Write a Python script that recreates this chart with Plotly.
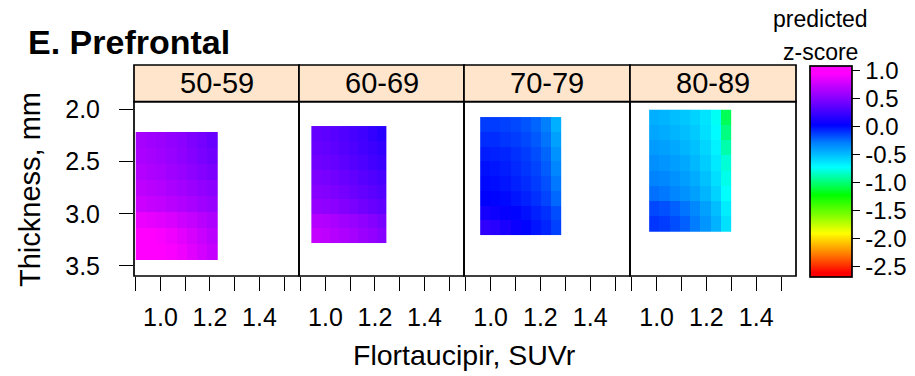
import numpy as np
import plotly.graph_objects as go

# Age groups (one panel each)
age_groups = ["50-59", "60-69", "70-79", "80-89"]

# Observed range of Flortaucipir SUVr and cortical thickness per age group
suvr_min = [0.900, 0.943, 0.958, 0.970]
suvr_max = [1.233, 1.247, 1.285, 1.300]
thick_min = [2.217, 2.160, 2.074, 2.004]
thick_max = [3.440, 3.280, 3.207, 3.175]

# Predicted z-score grids: rows run from thin (top) to thick (bottom),
# columns from low to high SUVr
z_50_59 = [
    [0.62, 0.60, 0.58, 0.55, 0.52, 0.48, 0.44, 0.40],
    [0.64, 0.62, 0.60, 0.57, 0.54, 0.50, 0.46, 0.43],
    [0.67, 0.65, 0.63, 0.60, 0.57, 0.53, 0.50, 0.47],
    [0.71, 0.69, 0.67, 0.64, 0.61, 0.58, 0.55, 0.52],
    [0.76, 0.74, 0.72, 0.69, 0.66, 0.63, 0.60, 0.57],
    [0.88, 0.86, 0.84, 0.81, 0.77, 0.73, 0.69, 0.65],
    [0.97, 0.95, 0.93, 0.89, 0.85, 0.80, 0.75, 0.70],
    [1.02, 1.00, 0.97, 0.93, 0.89, 0.84, 0.79, 0.74],
]
z_60_69 = [
    [0.38, 0.36, 0.34, 0.31, 0.28, 0.25, 0.21, 0.17],
    [0.40, 0.38, 0.36, 0.33, 0.30, 0.27, 0.24, 0.21],
    [0.43, 0.41, 0.39, 0.36, 0.33, 0.30, 0.27, 0.24],
    [0.47, 0.45, 0.43, 0.40, 0.37, 0.34, 0.31, 0.28],
    [0.51, 0.49, 0.47, 0.44, 0.41, 0.38, 0.35, 0.32],
    [0.56, 0.54, 0.52, 0.49, 0.46, 0.43, 0.40, 0.37],
    [0.68, 0.66, 0.63, 0.60, 0.57, 0.54, 0.50, 0.46],
    [0.73, 0.71, 0.68, 0.65, 0.62, 0.58, 0.55, 0.51],
]
z_70_79 = [
    [-0.12, -0.12, -0.13, -0.15, -0.18, -0.22, -0.29, -0.45],
    [-0.08, -0.08, -0.10, -0.12, -0.15, -0.19, -0.26, -0.40],
    [-0.04, -0.05, -0.06, -0.09, -0.12, -0.16, -0.22, -0.35],
    [-0.01, -0.02, -0.04, -0.07, -0.10, -0.14, -0.20, -0.31],
    [0.01, 0.00, -0.02, -0.05, -0.08, -0.12, -0.17, -0.27],
    [0.03, 0.02, 0.01, -0.02, -0.05, -0.09, -0.14, -0.23],
    [0.10, 0.08, 0.05, 0.02, -0.01, -0.05, -0.09, -0.16],
    [0.20, 0.17, 0.12, 0.06, 0.02, -0.02, -0.06, -0.13],
]
z_80_89 = [
    [-0.45, -0.47, -0.50, -0.53, -0.57, -0.63, -0.74, -1.05],
    [-0.42, -0.44, -0.47, -0.50, -0.54, -0.61, -0.71, -0.97],
    [-0.38, -0.40, -0.43, -0.47, -0.51, -0.58, -0.68, -0.88],
    [-0.34, -0.36, -0.39, -0.43, -0.48, -0.55, -0.65, -0.80],
    [-0.30, -0.32, -0.35, -0.39, -0.44, -0.51, -0.61, -0.76],
    [-0.25, -0.27, -0.31, -0.35, -0.40, -0.47, -0.57, -0.72],
    [-0.15, -0.17, -0.21, -0.26, -0.32, -0.40, -0.50, -0.66],
    [-0.10, -0.12, -0.16, -0.21, -0.28, -0.36, -0.46, -0.62],
]
z_grids = [z_50_59, z_60_69, z_70_79, z_80_89]

# Axis ticks
x_tickvals = [0.9, 1.0, 1.1, 1.2, 1.3, 1.4, 1.5]
x_ticktext = ["", "1.0", "", "1.2", "", "1.4", ""]
y_tickvals = [2.0, 2.5, 3.0, 3.5]
y_ticktext = ["2.0", "2.5", "3.0", "3.5"]
cb_tickvals = [1.0, 0.5, 0.0, -0.5, -1.0, -1.5, -2.0, -2.5]
cb_ticktext = ["1.0", "0.5", "0.0", "-0.5", "-1.0", "-1.5", "-2.0", "-2.5"]

ZMIN, ZMAX = -2.679, 1.084
W, H = 915, 376
FONT = "Liberation Sans, Arial, sans-serif"
BORDER = 1.7

# Rainbow palette (red -> magenta) anchored at z-score values
hue_stops = [
    (-2.679, "#FF0000"), (-2.60, "#FF0000"), (-2.26, "#FF8000"),
    (-1.90, "#FFFF00"), (-1.58, "#80FF00"), (-1.22, "#00FF00"),
    (-0.72, "#00FFFF"), (-0.29, "#0080FF"), (0.03, "#0000FF"),
    (0.48, "#8000FF"), (0.95, "#FF00FF"), (1.084, "#FF00FF"),
]
colorscale = [[(v - ZMIN) / (ZMAX - ZMIN), c] for v, c in hue_stops]


def px_x(p):
    return p / W


def px_y(p):
    return 1 - p / H


panel_px = [(134, 299), (299, 464), (464, 630), (630, 796)]
plot_top, plot_bottom = 101.7, 276.0
strip_top = 65.0

fig = go.Figure()

for i, grp in enumerate(age_groups):
    z = np.array(z_grids[i])
    nrow, ncol = z.shape
    x_edges = np.linspace(suvr_min[i], suvr_max[i], ncol + 1)
    y_edges = np.linspace(thick_min[i], thick_max[i], nrow + 1)
    ax = "" if i == 0 else str(i + 1)
    fig.add_trace(go.Heatmap(
        z=z, x=x_edges, y=y_edges, coloraxis="coloraxis",
        xaxis="x" + ax, yaxis="y" + ax, zsmooth=False,
        hoverinfo="skip",
    ))

    x0, x1 = panel_px[i]
    xa = dict(
        domain=[px_x(x0), px_x(x1)], range=[0.893, 1.560], automargin=False,
        anchor="y" + ax, showline=False, showgrid=False, zeroline=False,
        tickmode="array", tickvals=x_tickvals, ticktext=x_ticktext,
        ticks="outside", ticklen=14, tickwidth=1.2, tickcolor="black",
        tickfont=dict(family=FONT, size=25, color="black"),
        ticklabelstandoff=5,
    )
    ya = dict(
        domain=[px_y(plot_bottom), px_y(plot_top)], range=[3.596, 1.927],
        automargin=False, anchor="x" + ax,
        showline=False, showgrid=False, zeroline=False,
    )
    if i == 0:
        ya.update(tickmode="array", tickvals=y_tickvals, ticktext=y_ticktext,
                  ticks="outside", ticklen=14, tickwidth=1.2, tickcolor="black",
                  tickfont=dict(family=FONT, size=25, color="black"),
                  ticklabelstandoff=14)
    else:
        ya.update(showticklabels=False, ticks="")
    fig.layout["xaxis" + ax] = xa
    fig.layout["yaxis" + ax] = ya

    # panel frame
    fig.add_shape(type="rect", xref="paper", yref="paper",
                  x0=px_x(x0), x1=px_x(x1), y0=px_y(plot_bottom), y1=px_y(plot_top),
                  fillcolor="rgba(0,0,0,0)", line=dict(color="black", width=BORDER),
                  layer="above")
    # strip header
    fig.add_shape(type="rect", xref="paper", yref="paper",
                  x0=px_x(x0), x1=px_x(x1), y0=px_y(plot_top), y1=px_y(strip_top),
                  fillcolor="#FFE5CC", line=dict(color="black", width=BORDER),
                  layer="above")
    fig.add_annotation(x=px_x((x0 + x1) / 2), y=px_y((strip_top + plot_top) / 2),
                       xref="paper", yref="paper", text=grp, showarrow=False,
                       xanchor="center", yanchor="middle",
                       font=dict(family=FONT, size=29, color="black"))

fig.update_layout(
    template="none",
    width=W, height=H, margin=dict(l=0, r=0, t=0, b=0, pad=0, autoexpand=False),
    paper_bgcolor="white", plot_bgcolor="white", showlegend=False,
    font=dict(family=FONT, color="black"),
    coloraxis=dict(
        cmin=ZMIN, cmax=ZMAX, colorscale=colorscale,
        colorbar=dict(
            x=px_x(810), xanchor="left", xpad=0, ypad=0,
            y=px_y((66 + 276.7) / 2), yanchor="middle",
            len=(276.7 - 66) / H, lenmode="fraction",
            thickness=42, thicknessmode="pixels",
            outlinewidth=BORDER, outlinecolor="black",
            tickmode="array", tickvals=cb_tickvals, ticktext=cb_ticktext,
            ticks="outside", ticklen=8, tickwidth=1.2, tickcolor="black",
            tickfont=dict(family=FONT, size=24, color="black"),
        ),
    ),
)

# Titles and axis labels
fig.add_annotation(x=px_x(26), y=px_y(42), xref="paper", yref="paper",
                   text="<b>E. Prefrontal</b>", showarrow=False,
                   xanchor="left", yanchor="middle",
                   font=dict(family=FONT, size=34, color="black"))
fig.add_annotation(x=px_x(464), y=px_y(355), xref="paper", yref="paper",
                   text="Flortaucipir, SUVr", showarrow=False,
                   xanchor="center", yanchor="middle",
                   font=dict(family=FONT, size=28.5, color="black"))
fig.add_annotation(x=px_x(30), y=px_y(190), xref="paper", yref="paper",
                   text="Thickness, mm", showarrow=False, textangle=-90,
                   xanchor="center", yanchor="middle",
                   font=dict(family=FONT, size=29, color="black"))
fig.add_annotation(x=px_x(820), y=px_y(19), xref="paper", yref="paper",
                   text="predicted", showarrow=False,
                   xanchor="center", yanchor="middle",
                   font=dict(family=FONT, size=23, color="black"))
fig.add_annotation(x=px_x(820), y=px_y(52), xref="paper", yref="paper",
                   text="z-score", showarrow=False,
                   xanchor="center", yanchor="middle",
                   font=dict(family=FONT, size=23, color="black"))

fig.write_html("out.html")
